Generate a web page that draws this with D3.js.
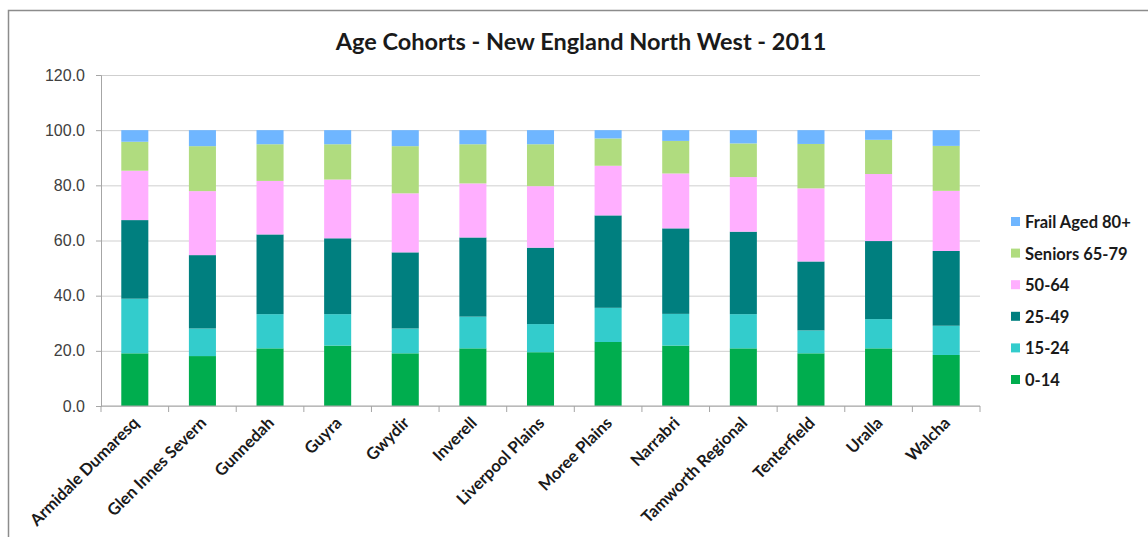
<!DOCTYPE html>
<html lang="en">
<head>
<meta charset="utf-8">
<title>Age Cohorts - New England North West - 2011</title>
<script src="https://cdn.jsdelivr.net/npm/d3@7"></script>
<style>
  body { margin: 0; background: #fff; }
  svg { font-family: Lato, "Open Sans", sans-serif; }
  .grid line { stroke: #cfcfcf; }
  .grid .domain { display: none; }
  .yaxis text { fill: #404040; font-size: 16px; }
  .xaxis text { fill: #1a1a1a; font-size: 16.5px; font-weight: bold; }
  .legend text { fill: #1a1a1a; font-size: 16.5px; font-weight: bold; }
</style>
</head>
<body>
<script>
// data (percent of population)
var councils = ["Armidale Dumaresq", "Glen Innes Severn", "Gunnedah", "Guyra", "Gwydir",
  "Inverell", "Liverpool Plains", "Moree Plains", "Narrabri", "Tamworth Regional",
  "Tenterfield", "Uralla", "Walcha"];
var age0_14  = [19.1, 18.1, 20.9, 21.9, 19.1, 20.9, 19.5, 23.2, 21.9, 20.9, 19.1, 20.9, 18.5];
var age15_24 = [19.8, 10.0, 12.4, 11.4,  9.0, 11.5, 10.2, 12.4, 11.5, 12.4,  8.3, 10.6, 10.6];
var age25_49 = [28.5, 26.6, 28.9, 27.5, 27.6, 28.7, 27.7, 33.5, 31.0, 29.9, 25.0, 28.3, 27.1];
var age50_64 = [17.9, 23.2, 19.4, 21.3, 21.4, 19.6, 22.3, 18.0, 19.9, 19.8, 26.5, 24.3, 21.8];
var age65_79 = [10.5, 16.3, 13.3, 12.8, 17.1, 14.2, 15.2,  9.9, 11.8, 12.2, 16.1, 12.4, 16.3];
var age80    = [ 4.2,  5.8,  5.1,  5.1,  5.8,  5.1,  5.1,  3.0,  3.9,  4.8,  5.0,  3.5,  5.7];
var seriesNames = ["0-14", "15-24", "25-49", "50-64", "Seniors 65-79", "Frail Aged 80+"];
var yTicks = [0, 20, 40, 60, 80, 100, 120];

var colors = ["#00ad4e", "#33cccc", "#007f7f", "#ffafff", "#b0dc7f", "#6fb6ff"];
var seriesValues = [age0_14, age15_24, age25_49, age50_64, age65_79, age80];

var W = 1148, H = 537;
var plotLeft = 101, plotRight = 980, plotTop = 75, plotBottom = 406;

var rows = councils.map(function(c, i) {
  var r = { name: c };
  seriesNames.forEach(function(s, j) { r[s] = seriesValues[j][i]; });
  return r;
});

var svg = d3.select("body").append("svg")
  .attr("width", W).attr("height", H);

// outer chart frame
svg.append("rect")
  .attr("x", 8.5).attr("y", 10.5)
  .attr("width", W + 10).attr("height", H + 10)
  .attr("fill", "none").attr("stroke", "#8c8c8c").attr("stroke-width", 1.5);

var x = d3.scaleBand().domain(councils).range([plotLeft, plotRight]).paddingInner(0.6).paddingOuter(0.3);
var xb = d3.scaleBand().domain(councils).range([plotLeft, plotRight]);
var y = d3.scaleLinear().domain([0, 120]).range([plotBottom, plotTop]);

// gridlines
svg.append("g").attr("class", "grid")
  .attr("transform", "translate(" + plotLeft + ",0)")
  .call(d3.axisLeft(y).tickValues(yTicks).tickSize(-(plotRight - plotLeft)).tickFormat(""));

// stacked bars
var stack = d3.stack().keys(seriesNames);
var layers = stack(rows);

svg.selectAll("g.layer")
  .data(layers)
  .enter().append("g")
  .attr("class", "layer")
  .attr("fill", function(d, i) { return colors[i]; })
  .selectAll("rect")
  .data(function(d) { return d; })
  .enter().append("rect")
  .attr("x", function(d) { return x(d.data.name); })
  .attr("y", function(d) { return y(d[1]); })
  .attr("width", x.bandwidth())
  .attr("height", function(d) { return y(d[0]) - y(d[1]); });

// y axis
var yAxis = svg.append("g").attr("class", "yaxis")
  .attr("transform", "translate(" + plotLeft + ",0)")
  .call(d3.axisLeft(y).tickValues(yTicks).tickSize(5).tickPadding(11).tickFormat(d3.format(".1f")));
yAxis.selectAll("line, .domain").attr("stroke", "#a6a6a6");

// x axis, ticks on band boundaries
var xAxis = svg.append("g").attr("class", "xaxis")
  .attr("transform", "translate(0," + plotBottom + ")");
xAxis.append("line")
  .attr("x1", plotLeft).attr("x2", plotRight)
  .attr("stroke", "#a6a6a6");
xAxis.selectAll("line.tick")
  .data(councils.concat(["end"]))
  .enter().append("line")
  .attr("class", "tick")
  .attr("x1", function(d, i) { return i < councils.length ? xb(d) : plotRight; })
  .attr("x2", function(d, i) { return i < councils.length ? xb(d) : plotRight; })
  .attr("y1", 0).attr("y2", 6)
  .attr("stroke", "#a6a6a6");
xAxis.selectAll("text")
  .data(councils)
  .enter().append("text")
  .attr("text-anchor", "end")
  .attr("transform", function(d) {
    return "translate(" + (xb(d) + xb.bandwidth() / 2 + 5) + ",18) rotate(-45)";
  })
  .text(function(d) { return d; });

// title
svg.append("text")
  .attr("x", 581).attr("y", 50)
  .attr("text-anchor", "middle")
  .attr("font-size", 23.5).attr("font-weight", "bold")
  .attr("fill", "#1a1a1a")
  .text("Age Cohorts - New England North West - 2011");

// legend, top entry = top of stack
var legend = svg.append("g").attr("class", "legend");
var legendOrder = seriesNames.slice().reverse();
var lg = legend.selectAll("g")
  .data(legendOrder)
  .enter().append("g")
  .attr("transform", function(d, i) { return "translate(1011," + (222 + i * 31.6) + ")"; });
lg.append("rect")
  .attr("x", 0).attr("y", -5).attr("width", 9).attr("height", 9)
  .attr("fill", function(d) { return colors[seriesNames.indexOf(d)]; });
lg.append("text")
  .attr("x", 14).attr("y", 6)
  .text(function(d) { return d; });
</script>
</body>
</html>
